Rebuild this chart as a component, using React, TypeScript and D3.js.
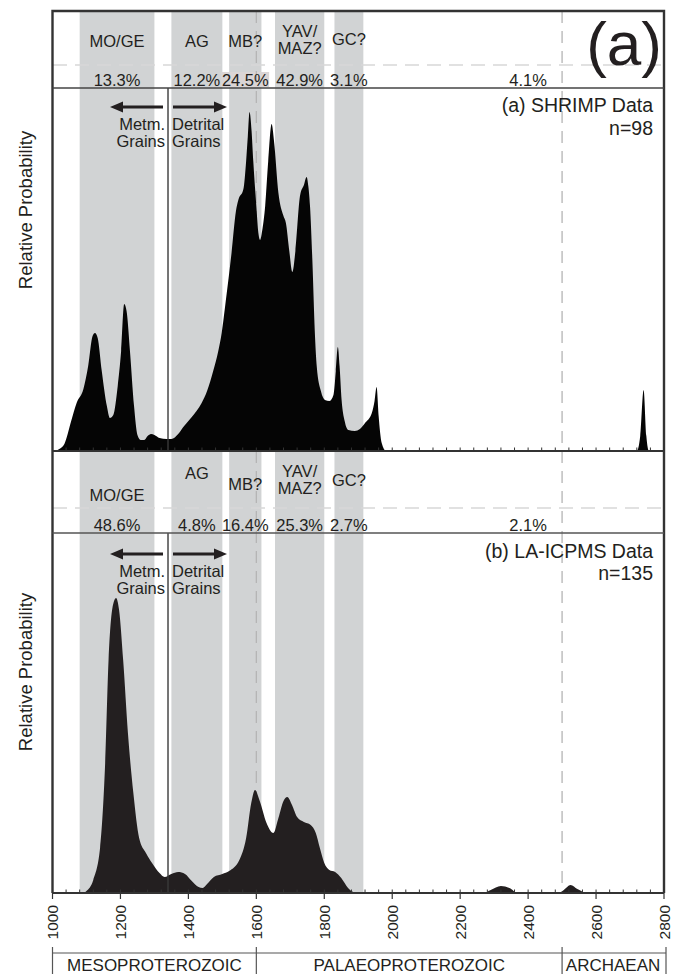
import React, { useEffect, useRef } from "react";
import * as d3 from "d3";

// ages (Ma) and relative probability for (a) SHRIMP, n=98
const agesA = [1000, 1005, 1020, 1035, 1055, 1071, 1091, 1105, 1118, 1125, 1133, 1145, 1160, 1169, 1179, 1192, 1202, 1211, 1218, 1228, 1240, 1250, 1260, 1270, 1280, 1290, 1300, 1315, 1336, 1350, 1370, 1385, 1410, 1439, 1455, 1473, 1488, 1498, 1510, 1527, 1540, 1547, 1562, 1570, 1575, 1580, 1586, 1591, 1600, 1606, 1611, 1618, 1626, 1635, 1645, 1652, 1665, 1680, 1687, 1697, 1706, 1715, 1729, 1740, 1748, 1753, 1758, 1765, 1772, 1778, 1790, 1802, 1815, 1827, 1834, 1840, 1845, 1851, 1860, 1871, 1890, 1905, 1920, 1940, 1948, 1954, 1960, 1969, 1982, 2720, 2730, 2740, 2748, 2756, 2800];
const probA = [0, 0, 2, 7, 30, 48, 62, 85, 115, 118, 113, 80, 45, 33, 36, 65, 100, 147, 140, 100, 45, 16, 11, 11, 15, 17, 16, 13, 12, 12, 17, 24, 34, 48, 60, 80, 100, 118, 150, 198, 240, 251, 262, 290, 315, 339, 320, 290, 245, 218, 211, 222, 245, 290, 327, 310, 258, 235, 228, 200, 179, 200, 256, 266, 274, 265, 245, 190, 120, 84, 60, 51, 50, 56, 80, 104, 85, 51, 30, 21, 20, 22, 28, 38, 50, 64, 35, 8, 0, 0, 15, 61, 15, 0, 0];

// (b) LA-ICPMS, n=135
const agesB = [1000, 1090, 1100, 1120, 1140, 1155, 1165, 1178, 1187, 1196, 1208, 1222, 1238, 1255, 1275, 1293, 1315, 1330, 1350, 1370, 1390, 1410, 1430, 1442, 1455, 1475, 1500, 1520, 1550, 1570, 1585, 1596, 1610, 1630, 1650, 1665, 1680, 1691, 1705, 1720, 1740, 1760, 1775, 1787, 1800, 1815, 1832, 1850, 1870, 1885, 1900, 2270, 2290, 2320, 2345, 2370, 2490, 2505, 2525, 2545, 2575, 2800];
const probB = [0, 0, 2, 13, 45, 130, 233, 288, 295, 283, 233, 160, 100, 55, 40, 30, 20, 16, 19, 21, 19, 12, 6, 5, 9, 16, 19, 22, 33, 55, 90, 103, 92, 70, 60, 75, 92, 96, 88, 76, 71, 68, 60, 45, 30, 23, 21, 15, 5, 1, 0, 0, 3, 7, 5, 0, 0, 3, 8, 4, 0, 0];

// provenance bands
const bandNames = ["MO/GE", "AG", "MB?", "YAV/|MAZ?", "GC?"];
const bandFrom = [1080, 1350, 1520, 1655, 1830];
const bandTo = [1300, 1500, 1615, 1800, 1915];
const pctA = ["13.3%", "12.2%", "24.5%", "42.9%", "3.1%", "4.1%"];
const pctB = ["48.6%", "4.8%", "16.4%", "25.3%", "2.7%", "2.1%"];
const olderPctAge = 2400;

const majorTicks = [1000, 1200, 1400, 1600, 1800, 2000, 2200, 2400, 2600, 2800];
const eonNames = ["MESOPROTEROZOIC", "PALAEOPROTEROZOIC", "ARCHAEAN"];
const eonBounds = [1000, 1600, 2500, 2800];
const dashedAges = [1600, 2500];
const metmAge = 1340;

const FONT = "'Liberation Sans', Arial, Helvetica, sans-serif";
const INK = "#231f20";

function App() {
  const ref = useRef(null);

  useEffect(() => {
    const root = d3.select(ref.current);
    root.selectAll("*").remove();

    const svg = root.append("svg")
      .attr("width", 682)
      .attr("height", 974)
      .style("display", "block")
      .style("font-family", FONT);

    const top = 11, headA = 88, baseA = 451, headB = 533, baseB = 893;
    const x = d3.scaleLinear().domain([1000, 2800]).range([52.5, 664]);
    const yA = d3.scaleLinear().domain([0, 363]).range([baseA, headA]);
    const yB = d3.scaleLinear().domain([0, 360]).range([baseB, headB]);

    // grey bands
    svg.append("g").selectAll("rect")
      .data(bandFrom)
      .join("rect")
      .attr("x", (d) => x(d))
      .attr("width", (d, i) => x(bandTo[i]) - x(d))
      .attr("y", top)
      .attr("height", baseB - top)
      .attr("fill", "#d1d3d4");

    // little highlight behind 24.5%
    svg.append("rect")
      .attr("x", x(1567) - 24).attr("y", 72)
      .attr("width", 48).attr("height", 15)
      .attr("fill", "#dad5d5");

    // dashed horizontals in the headers
    [65, 508].forEach((yy) => {
      svg.append("line")
        .attr("x1", 53).attr("x2", 664)
        .attr("y1", yy).attr("y2", yy)
        .attr("stroke", "#d8d8d8")
        .attr("stroke-width", 1.3)
        .attr("stroke-dasharray", "14,8");
    });

    // dashed verticals at 1600 / 2500
    dashedAges.forEach((a) => {
      svg.append("line")
        .attr("x1", x(a)).attr("x2", x(a))
        .attr("y1", top).attr("y2", baseB)
        .attr("stroke", "#b4b4b4")
        .attr("stroke-width", 1.3)
        .attr("stroke-dasharray", "12,8");
    });

    // probability curves
    const areaA = d3.area()
      .x((d) => x(d[0]))
      .y0(baseA)
      .y1((d) => yA(d[1]))
      .curve(d3.curveMonotoneX);
    const areaB = d3.area()
      .x((d) => x(d[0]))
      .y0(baseB)
      .y1((d) => yB(d[1]))
      .curve(d3.curveMonotoneX);

    svg.append("path")
      .datum(agesA.map((a, i) => [a, probA[i]]))
      .attr("fill", "#050505")
      .attr("d", areaA);
    svg.append("path")
      .datum(agesB.map((a, i) => [a, probB[i]]))
      .attr("fill", INK)
      .attr("d", areaB);

    // metamorphic / detrital divider
    const xm = x(metmAge);
    [[headA, baseA], [headB, baseB]].forEach(([y1, y2]) => {
      svg.append("line")
        .attr("x1", xm).attr("x2", xm)
        .attr("y1", y1).attr("y2", y2)
        .attr("stroke", "#3a3a3a")
        .attr("stroke-width", 1.4);
    });

    // frame
    const frame = svg.append("g").attr("stroke", "#333").attr("fill", "none");
    frame.append("path")
      .attr("d", `M52.5,${baseB} V${top} H664 V${baseB}`)
      .attr("stroke-width", 2.4);
    frame.append("line").attr("x1", 52.5).attr("x2", 664).attr("y1", headA).attr("y2", headA).attr("stroke-width", 1.5).attr("stroke", "#444");
    frame.append("line").attr("x1", 52.5).attr("x2", 664).attr("y1", headB).attr("y2", headB).attr("stroke-width", 1.5).attr("stroke", "#555");
    frame.append("line").attr("x1", 52.5).attr("x2", 664).attr("y1", baseA).attr("y2", baseA).attr("stroke-width", 2.2);
    frame.append("line").attr("x1", 52.5).attr("x2", 664).attr("y1", baseB).attr("y2", baseB).attr("stroke-width", 2.2);

    // ticks
    const minor = d3.range(1000, 2801, 40);
    [baseA, baseB].forEach((b) => {
      svg.append("g").selectAll("line")
        .data(minor)
        .join("line")
        .attr("x1", (d) => x(d)).attr("x2", (d) => x(d))
        .attr("y1", b).attr("y2", b - 3.5)
        .attr("stroke", "#333").attr("stroke-width", 1);
    });
    svg.append("g").selectAll("line")
      .data(majorTicks)
      .join("line")
      .attr("x1", (d) => x(d)).attr("x2", (d) => x(d))
      .attr("y1", baseB).attr("y2", baseB + 6)
      .attr("stroke", "#333").attr("stroke-width", 1.2);

    svg.append("g").selectAll("text")
      .data(majorTicks)
      .join("text")
      .attr("transform", (d) => `translate(${x(d) + 5.5},905) rotate(-90)`)
      .attr("text-anchor", "end")
      .attr("font-size", 15.5)
      .attr("fill", INK)
      .text((d) => d);

    // eon bar
    const eon = svg.append("g").attr("stroke", "#555").attr("stroke-width", 1.2);
    eon.append("line").attr("x1", 52.5).attr("x2", 666).attr("y1", 953).attr("y2", 953);
    eonBounds.forEach((a, i) => {
      const xx = i === eonBounds.length - 1 ? 666 : x(a);
      eon.append("line").attr("x1", xx).attr("x2", xx).attr("y1", 947).attr("y2", 974);
    });
    svg.append("g").selectAll("text")
      .data(eonNames)
      .join("text")
      .attr("x", (d, i) => (x(eonBounds[i]) + x(eonBounds[i + 1])) / 2)
      .attr("y", 971)
      .attr("text-anchor", "middle")
      .attr("font-size", 17)
      .attr("fill", INK)
      .text((d) => d);

    // header texts
    const txt = (tx, ty, s, size, anchor = "middle") =>
      svg.append("text")
        .attr("x", tx).attr("y", ty)
        .attr("text-anchor", anchor)
        .attr("font-size", size)
        .attr("fill", INK)
        .text(s);

    const mid = (i) => x((bandFrom[i] + bandTo[i]) / 2);
    const labelYA = [47, 47, 47, 37, 45];
    const labelYB = [501, 479, 490, 477, 486];
    bandNames.forEach((n, i) => {
      const parts = n.split("|");
      if (parts.length > 1) {
        txt(mid(i), labelYA[i], parts[0], 16.5);
        txt(mid(i), labelYA[i] + 17, parts[1], 16.5);
        txt(mid(i), labelYB[i], parts[0], 16.5);
        txt(mid(i), labelYB[i] + 17, parts[1], 16.5);
      } else {
        txt(mid(i), labelYA[i], n, 16.5);
        txt(mid(i), labelYB[i], n, 16.5);
      }
    });
    pctA.forEach((p, i) => {
      const px = i < bandFrom.length ? mid(i) : x(olderPctAge);
      txt(px, 86, p, 16.5);
    });
    pctB.forEach((p, i) => {
      const px = i < bandFrom.length ? mid(i) : x(olderPctAge);
      txt(px, 531, p, 16.5);
    });

    // big panel letter
    txt(662, 65, "(a)", 62, "end");

    // dataset labels
    txt(653, 112, "(a) SHRIMP Data", 19.5, "end");
    txt(653, 135, "n=98", 19.5, "end");
    txt(653, 558, "(b) LA-ICPMS Data", 19.5, "end");
    txt(653, 580, "n=135", 19.5, "end");

    // arrows + metm/detrital captions
    [107, 554].forEach((ay) => {
      const g = svg.append("g").attr("fill", INK).attr("stroke", INK);
      g.append("line").attr("x1", xm - 5).attr("x2", xm - 46).attr("y1", ay).attr("y2", ay).attr("stroke-width", 3);
      g.append("path").attr("d", `M${xm - 58},${ay} L${xm - 45},${ay - 5.5} L${xm - 45},${ay + 5.5} Z`).attr("stroke", "none");
      g.append("line").attr("x1", xm + 5).attr("x2", xm + 47).attr("y1", ay).attr("y2", ay).attr("stroke-width", 3);
      g.append("path").attr("d", `M${xm + 59},${ay} L${xm + 46},${ay - 5.5} L${xm + 46},${ay + 5.5} Z`).attr("stroke", "none");
      txt(xm - 3, ay + 23, "Metm.", 16.5, "end");
      txt(xm - 3, ay + 40, "Grains", 16.5, "end");
      txt(xm + 4, ay + 23, "Detrital", 16.5, "start");
      txt(xm + 4, ay + 40, "Grains", 16.5, "start");
    });

    // y labels
    [210, 672].forEach((cy) => {
      svg.append("text")
        .attr("transform", `translate(32,${cy}) rotate(-90)`)
        .attr("text-anchor", "middle")
        .attr("font-size", 18.5)
        .attr("fill", INK)
        .text("Relative Probability");
    });
  }, []);

  return <div ref={ref} style={{ position: "absolute", left: 0, top: 0 }}></div>;
}

export default App;
